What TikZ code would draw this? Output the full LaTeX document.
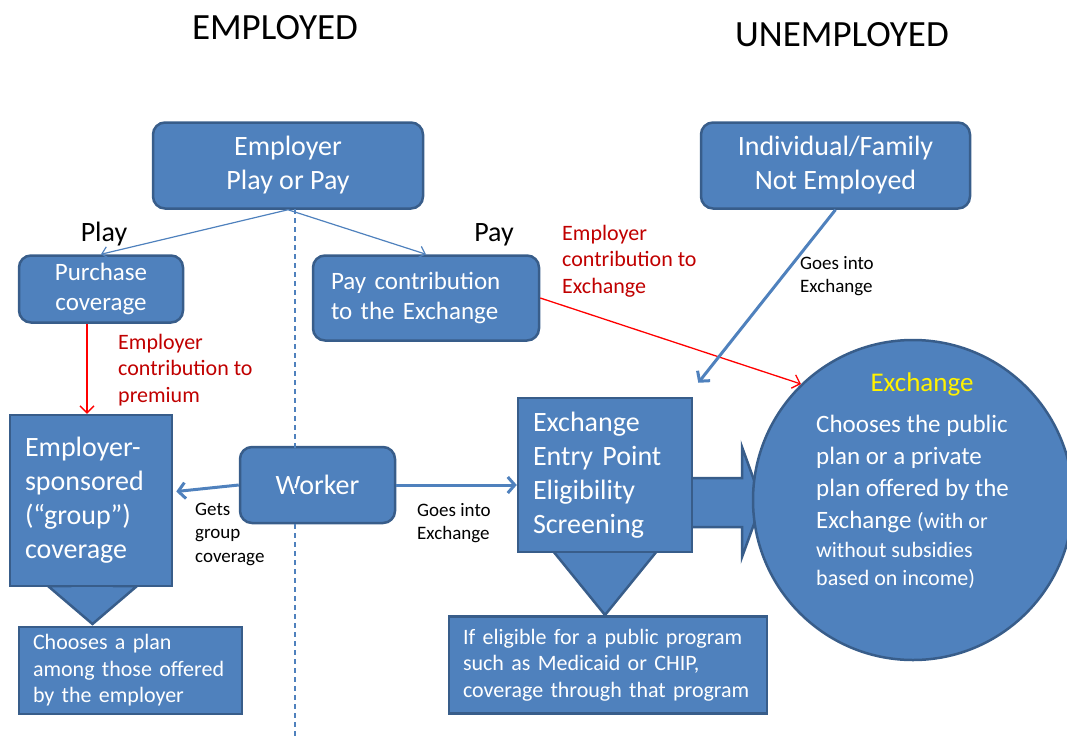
\documentclass[tikz,border=0pt]{standalone}
\usepackage{fontspec}
\setmainfont{Carlito}
\usetikzlibrary{arrows.meta}
\definecolor{boxblue}{RGB}{79,129,189}
\definecolor{boxline}{RGB}{56,93,138}
\definecolor{notered}{RGB}{192,0,0}
\begin{document}
\begin{tikzpicture}
[x=1pt,y=-1pt,
every node/.style={inner sep=0pt},
box/.style={draw=boxline,line width=2.5pt,fill=boxblue,text=white},
round box/.style={box,rounded corners=12pt},
title text/.style={font=\fontsize{37}{44}\selectfont},
big text/.style={font=\fontsize{28}{34}\selectfont},
mid text/.style={font=\fontsize{25}{30}\selectfont},
small text/.style={font=\fontsize{22}{26.5}\selectfont},
note text/.style={font=\fontsize{19}{23.5}\selectfont,align=left,anchor=north west},
thin arrow/.style={draw=boxblue,line width=1.2pt,-{Straight Barb[length=6pt,width=12pt]}},
thick arrow/.style={draw=boxblue,line width=3pt,-{Straight Barb[length=7pt,width=16pt]}},
red arrow/.style={draw=red,line width=1.3pt,-{Straight Barb[length=7pt,width=14pt]}},
block/.style={fill=boxblue,draw=boxline,line width=2.5pt,line join=miter},
divider/.style={draw=boxblue,line width=1.3pt,dash pattern=on 5pt off 4pt}]
	\useasboundingbox (0,0) rectangle (1067,736);
	\node[title text] (employed) at (275,28) {EMPLOYED};
	\node[title text] (unemployed) at (842,35) {UNEMPLOYED};
	% block arrows
	\draw[block] (70,578) -- (114,578) -- (114,586) -- (137,586) -- (92.5,624) -- (48,586) -- (70,586) -- cycle;
	\draw[block] (580,545) -- (630,545) -- (630,551) -- (657,551) -- (605,615) -- (553,551) -- (580,551) -- cycle;
	\draw[block] (686,478) -- (742,478) -- (742,447) -- (762,502) -- (742,557) -- (742,527) -- (686,527) -- cycle;
	% boxes
	\node[round box,big text,minimum width=270,minimum height=86,align=center] (employer) at (288,165.5) {Employer\\Play or Pay};
	\node[round box,big text,minimum width=269,minimum height=86,align=center] (individual) at (835.5,165.5) {Individual/Family\\Not Employed};
	\node[round box,mid text,minimum width=164,minimum height=67,align=center] (purchase) at (101,289) {Purchase\\coverage};
	\node[round box,mid text,minimum width=226,minimum height=85,text width=190,align=left] (contribution) at (426,298) {Pay contribution\\to the Exchange};
	\node[box,big text,minimum width=162,minimum height=171,text width=132,align=left] (sponsored) at (91,500.5) {Employer-\\sponsored\\(“group”)\\coverage};
	\node[box,small text,minimum width=223,minimum height=87,text width=195,align=left] (planchoice) at (130.5,670.5) {Chooses a plan\\among those offered\\by the employer};
	\node[round box,big text,minimum width=155,minimum height=76] (worker) at (317.5,485) {Worker};
	\node[box,big text,minimum width=174,minimum height=154,text width=144,align=left] (entry) at (605,475) {Exchange\\Entry Point\\Eligibility\\Screening};
	\node[box,small text,minimum width=318,minimum height=97,text width=290,align=left] (eligible) at (608,665) {If eligible for a public program\\such as Medicaid or CHIP,\\coverage through that program};
	\node[box,circle,minimum size=320] (exchange) at (913,500) {};
	\node[text=yellow,font=\fontsize{27}{32}\selectfont] (exchtitle) at (922,384) {Exchange};
	\node[text=white,font=\fontsize{25}{32}\selectfont,align=left,anchor=north west] (exchtext) at (816,415)
		{Chooses the public\\plan or a private\\plan offered by the\\Exchange {\fontsize{22}{26}\selectfont(with or}\\[-3pt]
		{\fontsize{22}{26}\selectfont without subsidies}\\[-4pt]{\fontsize{22}{26}\selectfont based on income)}};
	% dashed split between the two sides
	\coordinate (divtop) at (295,209);
	\coordinate (divbottom) at (295,736);
	\draw[divider] (divtop) -- (divbottom);
	% connectors
	\draw[thin arrow] (employer.south) -- (purchase.north);
	\draw[thin arrow] (employer.south) -- (contribution.north);
	\draw[red arrow] ([xshift=-14pt]purchase.south) -- ([xshift=-4pt]sponsored.north);
	\draw[red arrow] (contribution.east) -- (exchange.134);
	\draw[thick arrow] (individual.south) -- ([shift={(5,-14)}]entry.north east);
	\draw[thick arrow] (worker.west) -- ([shift={(3,-9)}]sponsored.east);
	\draw[thick arrow] (worker.east) -- (worker.east -| entry.west);
	% labels
	\node[big text] (play) at (104,234) {Play};
	\node[big text] (pay) at (494,235) {Pay};
	\node[small text,text=notered,align=left,anchor=north west] (premiumnote) at (118,334) {Employer\\contribution to\\premium};
	\node[small text,text=notered,align=left,anchor=north west] (exchangenote) at (562,225) {Employer\\contribution to\\Exchange};
	\node[note text] (groupnote) at (195,502.5) {Gets\\group\\coverage};
	\node[note text] (workernote) at (417,503) {Goes into\\Exchange};
	\node[note text] (individualnote) at (800,256) {Goes into\\Exchange};
\end{tikzpicture}
\end{document}
